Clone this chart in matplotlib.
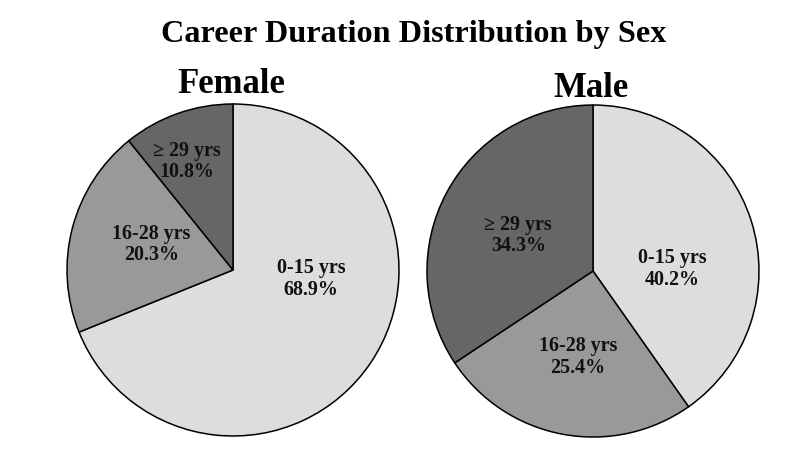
import matplotlib
matplotlib.use("Agg")
import matplotlib.pyplot as plt

plt.rcParams['font.family'] = ['Liberation Serif', 'DejaVu Serif']

title = "Career Duration Distribution by Sex"
groups = ["Female", "Male"]
categories = ["0-15 yrs", "16-28 yrs", "\u2265 29 yrs"]
female_pct = [68.9, 20.3, 10.8]
male_pct = [40.2, 25.4, 34.3]
values = [female_pct, male_pct]

colors = ["#dddddd", "#999999", "#666666"]

# label positions (relative to pie centre, radius = 1)
label_pos = [
    [(0.47, -0.05), (-0.49, 0.16), (-0.28, 0.66)],
    [(0.48, 0.02), (-0.09, -0.51), (-0.45, 0.22)],
]
axes_rects = [
    [0.08375, 0.0582, 0.415, 0.7155],
    [0.53375, 0.0560, 0.415, 0.7155],
]
group_title_pos = [(0.2895, 0.7996), (0.739, 0.791)]

fig = plt.figure(figsize=(8, 4.64), dpi=100)
fig.text(0.5175, 0.9095, title, ha='center', va='baseline',
         fontsize=23.2, fontweight='bold')

for i, g in enumerate(groups):
    ax = fig.add_axes(axes_rects[i])
    ax.pie(values[i], colors=colors, startangle=90, counterclock=False,
           wedgeprops=dict(edgecolor='black', linewidth=1.1))
    ax.set_xlim(-1, 1)
    ax.set_ylim(-1, 1)
    ax.set_aspect('equal')
    ax.axis('off')
    for j, cat in enumerate(categories):
        x, y = label_pos[i][j]
        ax.text(x, y, f"{cat}\n{values[i][j]:.1f}%", ha='center', va='center',
                fontsize=14.4, fontweight='bold', color='#111111',
                linespacing=1.12)
    fig.text(group_title_pos[i][0], group_title_pos[i][1], g, ha='center',
             va='baseline', fontsize=25, fontweight='bold')

fig.savefig("out.png", dpi=100, facecolor='white')
